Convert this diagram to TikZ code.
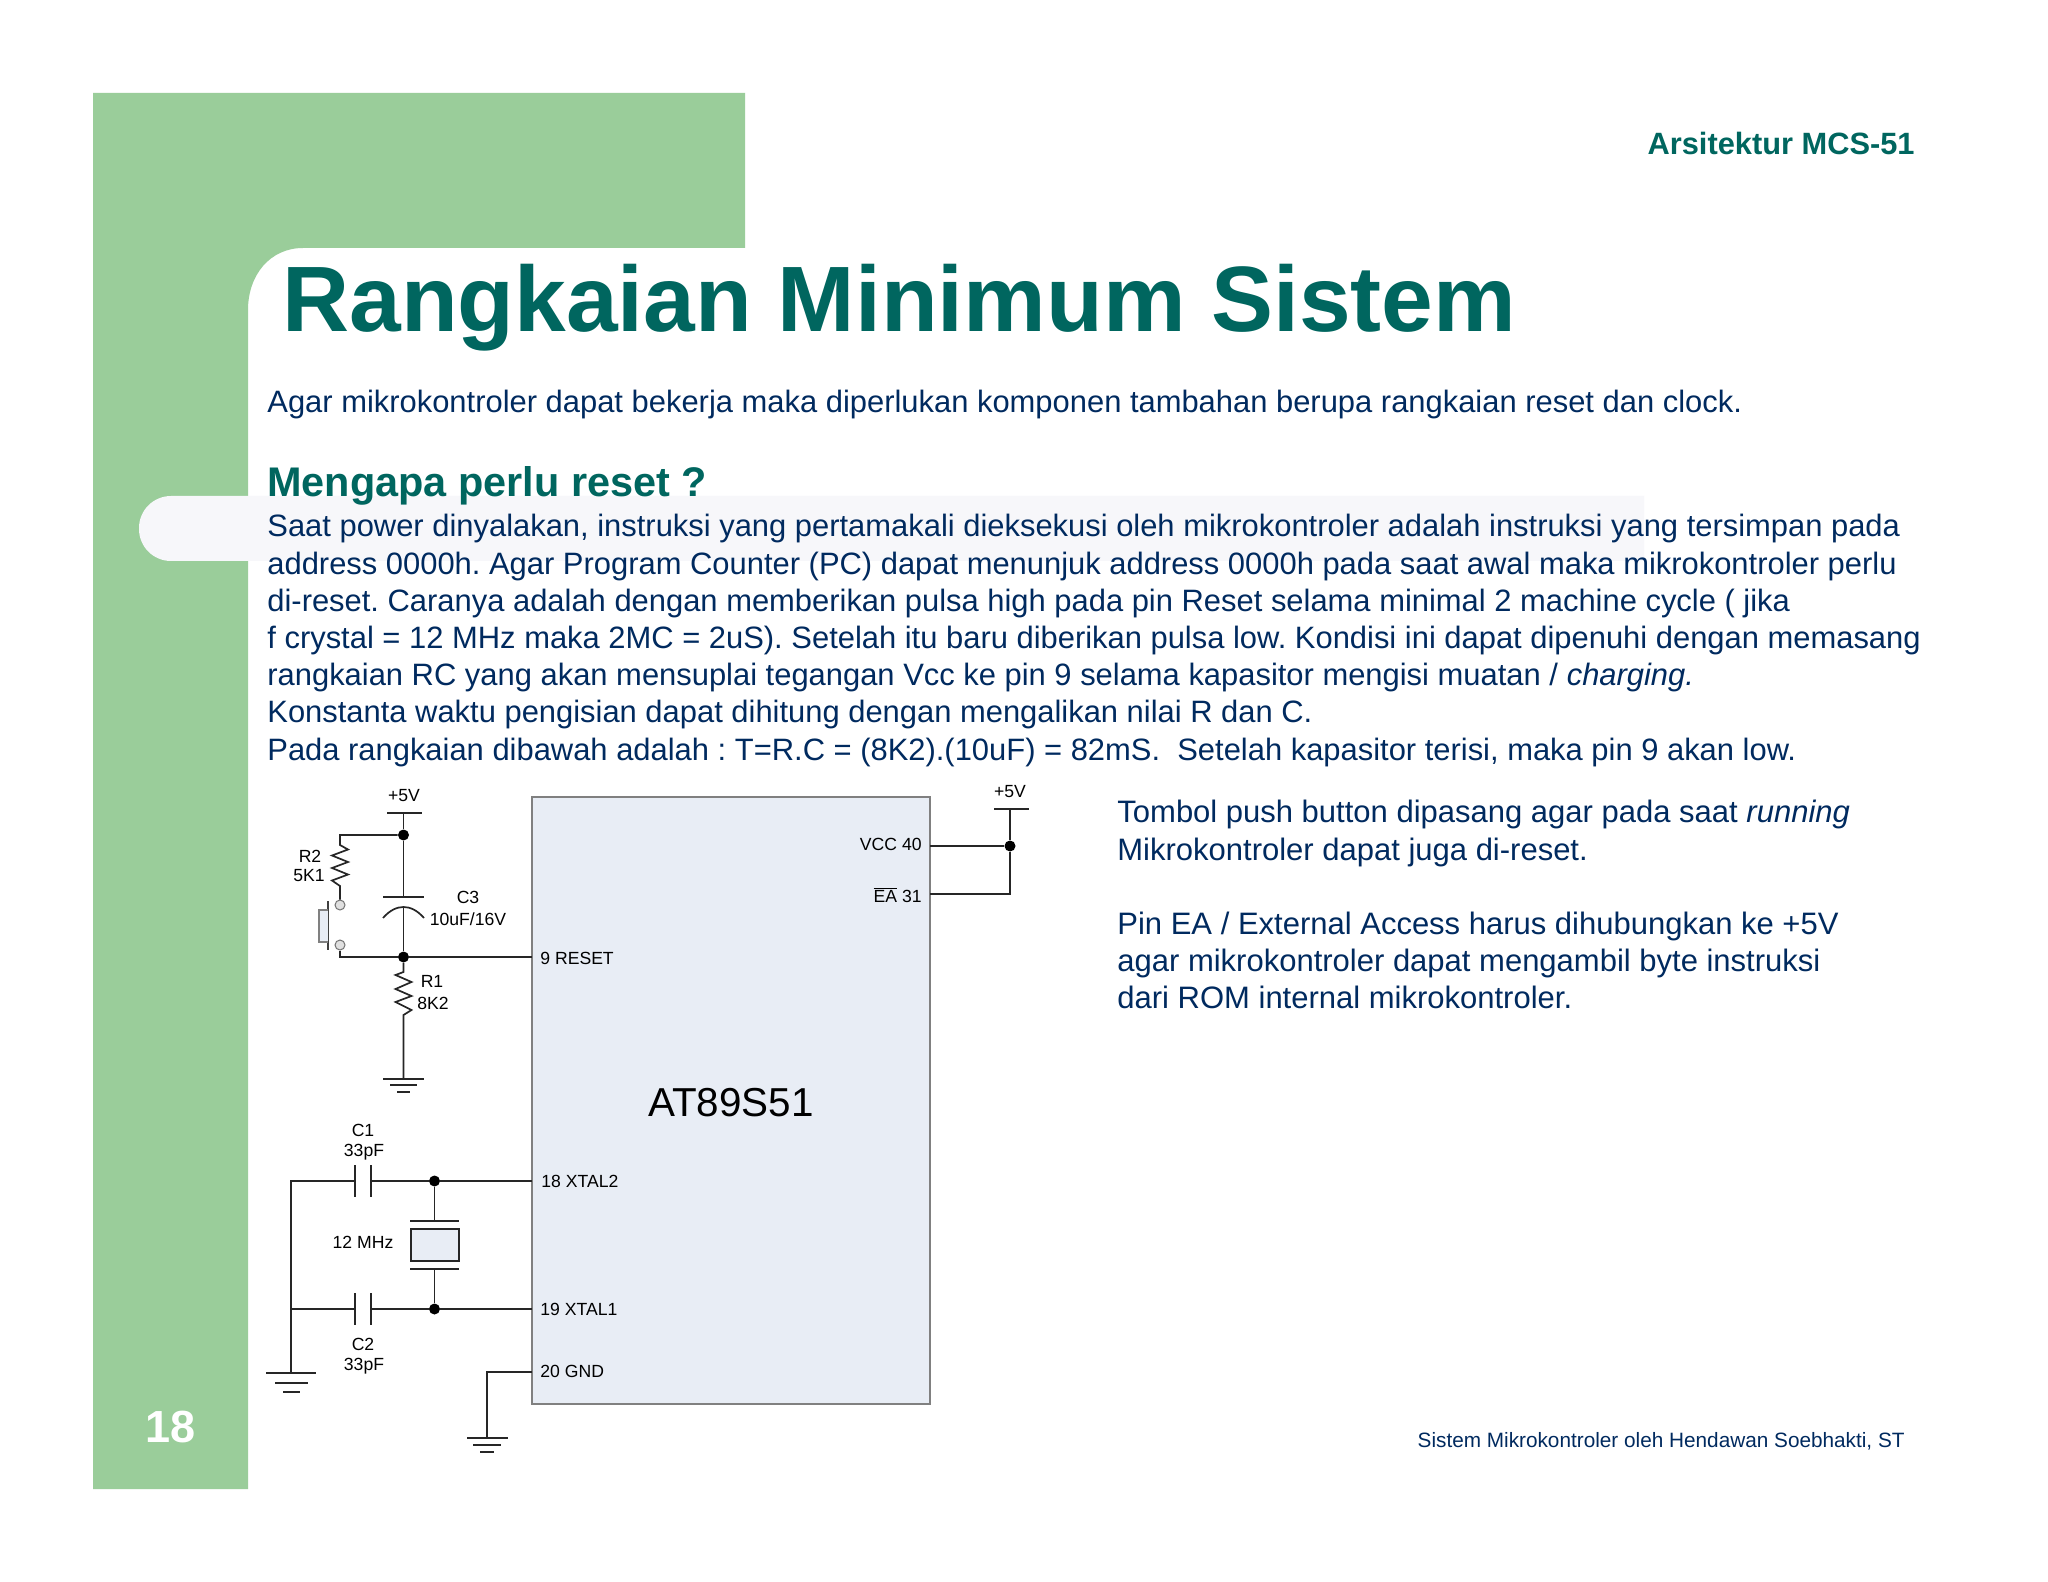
\documentclass[tikz,border=0pt]{standalone}
\usepackage{fontspec}
\setmainfont{Liberation Sans}
\definecolor{slidegreen}{RGB}{154,205,154}
\definecolor{titleteal}{RGB}{0,102,95}
\definecolor{bodynavy}{RGB}{0,42,95}
\definecolor{chipfill}{RGB}{232,237,245}
\definecolor{pillgrey}{RGB}{247,247,250}
\frenchspacing
\tikzset{
    wire/.style={black!85, line width=0.85pt},
    dotnode/.style={circle, fill=black, inner sep=0pt, minimum size=5.5pt},
    partlabel/.style={inner sep=0pt, align=center, font=\fontsize{8.8}{10.3}\selectfont},
    pinlabel/.style={inner sep=0pt, font=\fontsize{8.8}{10.3}\selectfont},
    bodytext/.style={inner sep=0pt, anchor=north west, align=left, text=bodynavy, font=\fontsize{15.46}{18.6}\selectfont},
    terminal/.style={circle, draw=black!55, fill=black!12, line width=0.5pt, inner sep=0pt, minimum size=5pt}
}
\begin{document}
\begin{tikzpicture}[x=0.5pt,y=-0.5pt]
    \useasboundingbox (0,0) rectangle (2048,1582);
    \fill[white] (0,0) rectangle (2048,1582);

    % Hintergrund
    \fill[slidegreen] (93,93) -- (745,93) -- (745,248) -- (303,248) .. controls (270,248) and (248,275) .. (248,310) -- (248,1489) -- (93,1489) -- cycle;
    \fill[pillgrey] (1644,496) [rounded corners=16pt] -- (139,496) -- (139,561) [sharp corners] -- (1644,561) -- cycle;

    % Titel
    \node[inner sep=0pt, anchor=east, text=titleteal, font=\fontsize{15.4}{18}\bfseries\selectfont] (header) at (1915,143) {Arsitektur MCS-51};
    \node[inner sep=0pt, anchor=base west, text=titleteal, font=\fontsize{46.45}{50}\bfseries\selectfont] (title) at (282,332) {Rangkaian Minimum Sistem};
    \node[inner sep=0pt, text=white, font=\fontsize{22.5}{26}\bfseries\selectfont] (pagenum) at (171,1427) {18};
    \node[inner sep=0pt, anchor=east, text=bodynavy, font=\fontsize{10.38}{12}\selectfont] (footer) at (1905,1441) {Sistem Mikrokontroler oleh Hendawan Soebhakti, ST};

    % Text
    \node[bodytext] (intro) at (267,390) {Agar mikrokontroler dapat bekerja maka diperlukan komponen tambahan berupa rangkaian reset dan clock.};
    \node[inner sep=0pt, anchor=west, text=titleteal, font=\fontsize{20.7}{24}\bfseries\selectfont] (question) at (267,486) {Mengapa perlu reset ?};
    \node[bodytext] (para) at (267,514) {Saat power dinyalakan, instruksi yang pertamakali dieksekusi oleh mikrokontroler adalah instruksi yang tersimpan pada\\
        address 0000h. Agar Program Counter (PC) dapat menunjuk address 0000h pada saat awal maka mikrokontroler perlu\\
        di-reset. Caranya adalah dengan memberikan pulsa high pada pin Reset selama minimal 2 machine cycle ( jika\\
        f crystal = 12 MHz maka 2MC = 2uS). Setelah itu baru diberikan pulsa low. Kondisi ini dapat dipenuhi dengan memasang\\
        rangkaian RC yang akan mensuplai tegangan Vcc ke pin 9 selama kapasitor mengisi muatan / \textit{charging.}\\
        Konstanta waktu pengisian dapat dihitung dengan mengalikan nilai R dan C.\\
        Pada rangkaian dibawah adalah : T=R.C = (8K2).(10uF) = 82mS.\ \ Setelah kapasitor terisi, maka pin 9 akan low.};
    \node[bodytext, font=\fontsize{15.5}{18.6}\selectfont] (notes) at (1117,800) {Tombol push button dipasang agar pada saat \textit{running}\\
        Mikrokontroler dapat juga di-reset.\\[18.6pt]
        Pin EA / External Access harus dihubungkan ke +5V\\
        agar mikrokontroler dapat mengambil byte instruksi\\
        dari ROM internal mikrokontroler.};

    % IC
    \fill[chipfill] (532,797) rectangle (930,1404);
    \draw[black!50, line width=0.7pt] (532,797) rectangle (930,1404);
    \node[inner sep=0pt, font=\fontsize{20.2}{23}\selectfont] (chip) at (731,1103) {AT89S51};
    \node[pinlabel, anchor=west] (reset) at (540,958) {9 RESET};
    \node[pinlabel, anchor=west] (xtaltwo) at (541,1181) {18 XTAL2};
    \node[pinlabel, anchor=west] (xtalone) at (540,1309) {19 XTAL1};
    \node[pinlabel, anchor=west] (gnd) at (540,1371) {20 GND};
    \node[pinlabel, anchor=east] (vcc) at (922,844) {VCC 40};
    \node[pinlabel, anchor=east] (ea) at (922,895) {$\overline{\mbox{EA}}$ 31};

    % Pins
    \coordinate (pinreset) at (532,957);
    \coordinate (pinxtaltwo) at (532,1181);
    \coordinate (pinxtalone) at (532,1309);
    \coordinate (pingnd) at (532,1372);
    \coordinate (pinvcc) at (930,846);
    \coordinate (pinea) at (930,894);

    % Reset
    \node[partlabel] (plusa) at (404,796) {+5V};
    \draw[wire] (387,813) -- (422,813);
    \node[dotnode] (jtop) at (403.5,835) {};
    \node[dotnode] (jreset) at (403.5,957) {};
    \draw[wire] (403.5,813) -- (jtop);
    \draw[wire] (jtop) -- (403.5,897);
    \draw[wire] (383,897) -- (424,897);
    \draw[wire] (383,918) .. controls (390,910) and (397,907) .. (403.5,907) .. controls (410,907) and (417,910) .. (424,918);
    \draw[wire] (403.5,907) -- (jreset);
    \draw[wire] (jreset) -- (pinreset);
    \node[partlabel] (cthree) at (468,897) {C3};
    \node[partlabel] (cthreeval) at (468,919) {10uF/16V};

    % R2 und Taster
    \node[terminal] (swtop) at (340,905) {};
    \node[terminal] (swbot) at (340,945) {};
    \draw[wire] (jtop) -- (340,835) -- (340,845) -- ++(8,4.5) -- ++(-16,6) -- ++(16,6.5) -- ++(-16,6) -- ++(16,6.5) -- ++(-16,6) -- ++(8,5.5) -- (swtop);
    \draw[wire] (swbot) -- (340,957) -- (jreset);
    \draw[black!75, line width=0.75pt] (328,901) -- (328,950);
    \draw[black!50, fill=chipfill, line width=0.6pt] (328,910) -- (319,910) -- (319,942) -- (328,942);
    \node[partlabel] (rtwo) at (310,856) {R2};
    \node[partlabel] (rtwoval) at (309,876) {5K1};

    % R1
    \coordinate (gndreset) at (403.5,1079);
    \draw[wire] (jreset) -- (403.5,972) -- ++(-8,3) -- ++(16,7) -- ++(-16,7) -- ++(16,7) -- ++(-16,6) -- ++(16,8) -- ++(-8,5) -- (gndreset);
    \draw[wire] (383,1079) -- (424,1079) (390,1085) -- (417,1085) (397,1092) -- (410,1092);
    \node[partlabel] (rone) at (432,981) {R1};
    \node[partlabel] (roneval) at (433,1003) {8K2};

    % Quarz
    \node[dotnode] (jxtwo) at (434.5,1181) {};
    \node[dotnode] (jxone) at (434.5,1309) {};
    \coordinate (jleft) at (291,1309);
    \coordinate (gndxtal) at (291,1373);
    \draw[wire] (pinxtaltwo) -- (jxtwo) -- (371,1181);
    \draw[wire] (355,1181) -- (291,1181) -- (gndxtal);
    \draw[wire] (355,1165) -- (355,1197) (371,1165) -- (371,1197);
    \draw[wire] (pinxtalone) -- (jxone) -- (371,1309);
    \draw[wire] (355,1309) -- (jleft);
    \draw[wire] (355,1293) -- (355,1325) (371,1293) -- (371,1325);
    \draw[wire] (jxtwo) -- (434.5,1221);
    \draw[wire] (410,1221) -- (459,1221) (410,1269) -- (459,1269);
    \draw[wire, fill=chipfill] (411,1229) rectangle (459,1261);
    \draw[wire] (434.5,1269) -- (jxone);
    \draw[wire] (266,1373) -- (316,1373) (275,1383) -- (308,1383) (283,1392) -- (300,1392);
    \node[partlabel] (cone) at (363,1130) {C1};
    \node[partlabel] (coneval) at (364,1152) {33pF};
    \node[partlabel] (xtalval) at (363,1242) {12 MHz};
    \node[partlabel] (ctwo) at (363,1344) {C2};
    \node[partlabel] (ctwoval) at (364,1366) {33pF};

    % GND
    \coordinate (gndchip) at (487,1438);
    \draw[wire] (pingnd) -- (487,1372) -- (gndchip);
    \draw[wire] (467,1438) -- (508,1438) (473,1445) -- (501,1445) (480,1452) -- (494,1452);

    % VCC
    \node[partlabel] (plusb) at (1010,792) {+5V};
    \node[dotnode] (jvcc) at (1010,846) {};
    \draw[wire] (994,809) -- (1029,809);
    \draw[wire] (1010,809) -- (jvcc);
    \draw[wire] (pinvcc) -- (jvcc) -- (1010,894) -- (pinea);
\end{tikzpicture}
\end{document}
